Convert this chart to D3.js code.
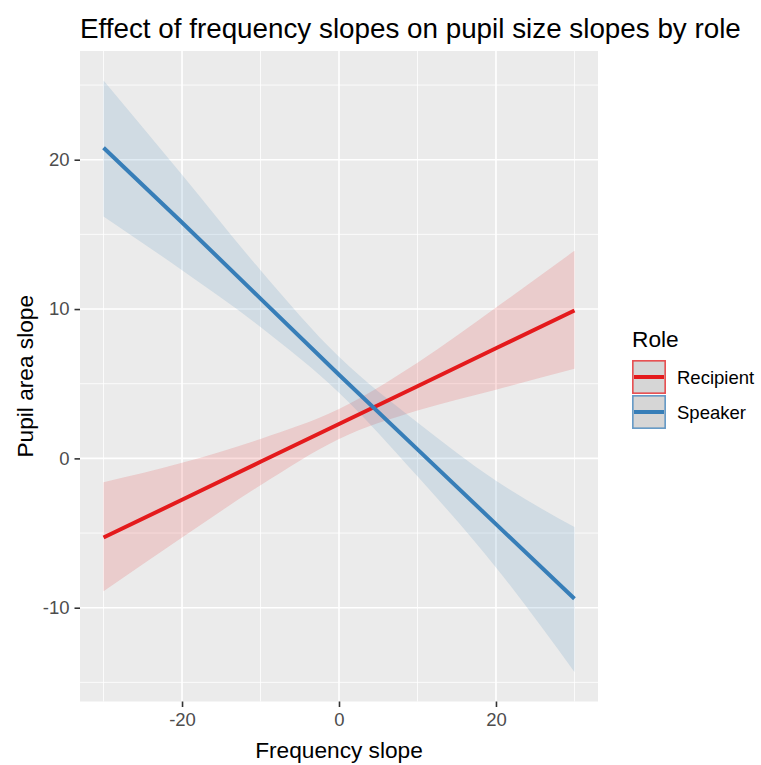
<!DOCTYPE html>
<html>
<head>
<meta charset="utf-8">
<script src="https://cdn.jsdelivr.net/npm/d3@7"></script>
<style>
  html, body { margin: 0; padding: 0; background: #ffffff; }
  svg { display: block; font-family: "Liberation Sans", Arial, sans-serif; }
</style>
</head>
<body>
<svg id="chart" width="761" height="765"></svg>
<script>
// Fitted lines with 95% confidence ribbons, one per role
const roles = ["Recipient", "Speaker"];
const roleColors = ["#E41A1C", "#377EB8"];
const freqSlope = [-30, -20, -10, 0, 10, 20, 30];

const recipientFit   = [-5.3, -2.77, -0.23, 2.3, 4.83, 7.37, 9.9];
const recipientLower = [-8.9, -5.3, -1.8, 1.3, 3.2, 4.6, 6.0];
const recipientUpper = [-1.6, -0.3, 1.3, 3.3, 6.4, 10.1, 13.9];

const speakerFit   = [20.8, 15.8, 10.7, 5.6, 0.6, -4.4, -9.4];
const speakerLower = [16.2, 12.6, 8.8, 4.4, -1.2, -7.3, -14.3];
const speakerUpper = [25.3, 19.0, 12.6, 6.8, 2.4, -1.5, -4.6];

const xTicks = [-20, 0, 20];
const yTicks = [-10, 0, 10, 20];

const titleText = "Effect of frequency slopes on pupil size slopes by role";
const xTitle = "Frequency slope";
const yTitle = "Pupil area slope";
const legendTitle = "Role";

const series = [
  { role: roles[0], color: roleColors[0], fit: recipientFit, lo: recipientLower, hi: recipientUpper },
  { role: roles[1], color: roleColors[1], fit: speakerFit,   lo: speakerLower,   hi: speakerUpper }
];

const svg = d3.select("#chart");
const panel = { left: 80, right: 598, top: 51, bottom: 701.5 };

// ggplot-style 5% expansion of the data range
const xExt = d3.extent(freqSlope);
const xPad = (xExt[1] - xExt[0]) * 0.05;
const yAll = [].concat(recipientLower, recipientUpper, speakerLower, speakerUpper);
const yExt = d3.extent(yAll);
const yPad = (yExt[1] - yExt[0]) * 0.05;

const x = d3.scaleLinear().domain([xExt[0] - xPad, xExt[1] + xPad]).range([panel.left, panel.right]);
const y = d3.scaleLinear().domain([yExt[0] - yPad, yExt[1] + yPad]).range([panel.bottom, panel.top]);

// panel background
svg.append("rect")
  .attr("x", panel.left).attr("y", panel.top)
  .attr("width", panel.right - panel.left).attr("height", panel.bottom - panel.top)
  .attr("fill", "#EBEBEB");

// minor grid (midpoints between major breaks)
const xMinor = [-30, -10, 10, 30];
const yMinor = [-15, -5, 5, 15, 25];
const grid = svg.append("g");
grid.selectAll(".xminor").data(xMinor).join("line")
  .attr("x1", d => x(d)).attr("x2", d => x(d))
  .attr("y1", panel.top).attr("y2", panel.bottom)
  .attr("stroke", "#ffffff").attr("stroke-width", 0.8);
grid.selectAll(".yminor").data(yMinor).join("line")
  .attr("y1", d => y(d)).attr("y2", d => y(d))
  .attr("x1", panel.left).attr("x2", panel.right)
  .attr("stroke", "#ffffff").attr("stroke-width", 0.8);
grid.selectAll(".xmajor").data(xTicks).join("line")
  .attr("x1", d => x(d)).attr("x2", d => x(d))
  .attr("y1", panel.top).attr("y2", panel.bottom)
  .attr("stroke", "#ffffff").attr("stroke-width", 1.6);
grid.selectAll(".ymajor").data(yTicks).join("line")
  .attr("y1", d => y(d)).attr("y2", d => y(d))
  .attr("x1", panel.left).attr("x2", panel.right)
  .attr("stroke", "#ffffff").attr("stroke-width", 1.6);

// ribbons
const area = d3.area()
  .x((d, i) => x(freqSlope[i]))
  .y0(d => y(d.lo))
  .y1(d => y(d.hi))
  .curve(d3.curveMonotoneX);
const line = d3.line()
  .x((d, i) => x(freqSlope[i]))
  .y(d => y(d));

series.forEach(s => {
  const pts = freqSlope.map((_, i) => ({ lo: s.lo[i], hi: s.hi[i] }));
  svg.append("path").datum(pts)
    .attr("d", area)
    .attr("fill", s.color).attr("fill-opacity", 0.15);
});
series.forEach(s => {
  svg.append("path").datum(s.fit)
    .attr("d", line)
    .attr("fill", "none")
    .attr("stroke", s.color).attr("stroke-width", 4);
});

// axes
const xAxis = svg.append("g")
  .attr("transform", `translate(0,${panel.bottom})`)
  .call(d3.axisBottom(x).tickValues(xTicks).tickSize(5.5).tickPadding(6).tickFormat(d3.format("d")));
const yAxis = svg.append("g")
  .attr("transform", `translate(${panel.left},0)`)
  .call(d3.axisLeft(y).tickValues(yTicks).tickSize(5.5).tickPadding(5).tickFormat(d3.format("d")));
[xAxis, yAxis].forEach(a => {
  a.select(".domain").remove();
  a.selectAll(".tick line").attr("stroke", "#333333").attr("stroke-width", 1.6);
  a.selectAll(".tick text").attr("fill", "#4D4D4D")
    .style("font-size", "18.5px")
    .style("font-family", "'Liberation Sans', Arial, sans-serif");
});
xAxis.selectAll(".tick text").text(d => d < 0 ? "-" + Math.abs(d) : d);
yAxis.selectAll(".tick text").text(d => d < 0 ? "-" + Math.abs(d) : d);

// titles
svg.append("text")
  .attr("x", 80).attr("y", 38)
  .attr("fill", "#000000")
  .style("font-size", "27.8px")
  .text(titleText);
svg.append("text")
  .attr("x", (panel.left + panel.right) / 2).attr("y", 758)
  .attr("text-anchor", "middle").attr("fill", "#000000")
  .style("font-size", "22.7px")
  .text(xTitle);
svg.append("text")
  .attr("transform", `translate(33,${(panel.top + panel.bottom) / 2}) rotate(-90)`)
  .attr("text-anchor", "middle").attr("fill", "#000000")
  .style("font-size", "22.7px")
  .text(yTitle);

// legend
const legend = svg.append("g").attr("transform", "translate(632,0)");
legend.append("text")
  .attr("x", 0).attr("y", 347)
  .attr("fill", "#000000")
  .style("font-size", "22.7px")
  .text(legendTitle);
series.forEach((s, i) => {
  const top = 360 + i * 35;
  legend.append("rect")
    .attr("x", 0.8).attr("y", top + 0.8)
    .attr("width", 32.4).attr("height", 32.4)
    .attr("fill", "#D6D6D6")
    .attr("stroke", s.color).attr("stroke-opacity", 0.75).attr("stroke-width", 1.6);
  legend.append("line")
    .attr("x1", 2).attr("x2", 32)
    .attr("y1", top + 17).attr("y2", top + 17)
    .attr("stroke", s.color).attr("stroke-width", 4);
  legend.append("text")
    .attr("x", 45).attr("y", top + 24)
    .attr("fill", "#000000")
    .style("font-size", "18.5px")
    .text(s.role);
});
</script>
</body>
</html>
